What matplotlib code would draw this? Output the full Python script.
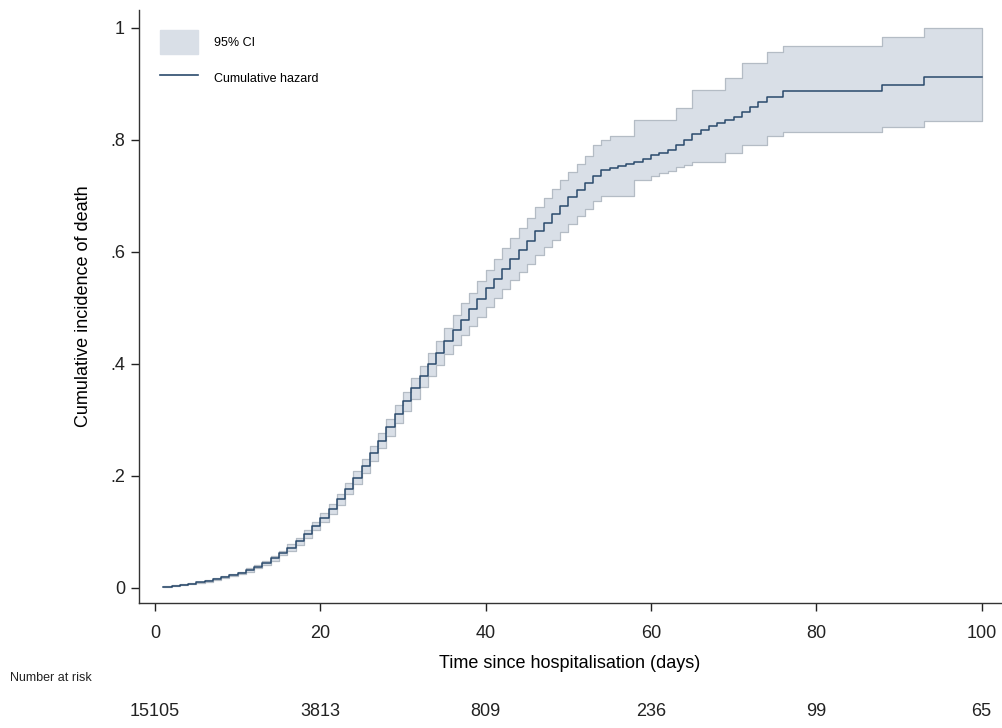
import matplotlib.pyplot as plt
from matplotlib.patches import Patch
from matplotlib.lines import Line2D

plt.rcParams['font.family'] = ['Liberation Sans', 'DejaVu Sans']

# event days (analysis time, days since hospitalisation)
days = list(range(1, 77)) + [88, 93]

# Nelson-Aalen cumulative hazard estimate at each event day
cumhaz = [0.002, 0.004, 0.006, 0.008, 0.010, 0.013, 0.016, 0.019, 0.023, 0.027,
          0.032, 0.038, 0.045, 0.053, 0.062, 0.072, 0.083, 0.096, 0.110, 0.125,
          0.141, 0.158, 0.177, 0.197, 0.218, 0.240, 0.263, 0.287, 0.310, 0.333,
          0.356, 0.378, 0.399, 0.419, 0.440, 0.460, 0.479, 0.497, 0.515, 0.535,
          0.552, 0.570, 0.587, 0.604, 0.620, 0.637, 0.652, 0.667, 0.682, 0.697,
          0.710, 0.723, 0.736, 0.746, 0.750, 0.753, 0.756, 0.760, 0.766, 0.772,
          0.777, 0.782, 0.790, 0.800, 0.810, 0.818, 0.824, 0.830, 0.836, 0.841,
          0.850, 0.859, 0.868, 0.877, 0.877, 0.886, 0.898, 0.911]

ci_lower = [0.001, 0.003, 0.005, 0.007, 0.009, 0.011, 0.014, 0.017, 0.021, 0.025,
            0.029, 0.035, 0.041, 0.049, 0.058, 0.066, 0.077, 0.089, 0.103, 0.117,
            0.132, 0.148, 0.167, 0.186, 0.206, 0.227, 0.249, 0.272, 0.294, 0.316,
            0.338, 0.359, 0.379, 0.398, 0.417, 0.434, 0.451, 0.468, 0.484, 0.502,
            0.518, 0.534, 0.549, 0.564, 0.578, 0.594, 0.608, 0.621, 0.635, 0.650,
            0.664, 0.676, 0.690, 0.699, 0.699, 0.699, 0.699, 0.728, 0.728, 0.735,
            0.740, 0.745, 0.752, 0.755, 0.761, 0.761, 0.761, 0.761, 0.777, 0.777,
            0.791, 0.791, 0.791, 0.806, 0.806, 0.814, 0.823, 0.833]

ci_upper = [0.003, 0.005, 0.007, 0.009, 0.011, 0.015, 0.018, 0.021, 0.025, 0.029,
            0.035, 0.041, 0.049, 0.057, 0.066, 0.078, 0.089, 0.103, 0.117, 0.133,
            0.150, 0.168, 0.187, 0.208, 0.230, 0.253, 0.277, 0.302, 0.326, 0.350,
            0.374, 0.397, 0.419, 0.441, 0.464, 0.487, 0.508, 0.527, 0.547, 0.568,
            0.587, 0.606, 0.625, 0.643, 0.661, 0.679, 0.696, 0.712, 0.728, 0.743,
            0.757, 0.770, 0.790, 0.800, 0.806, 0.806, 0.806, 0.836, 0.836, 0.836,
            0.836, 0.836, 0.857, 0.857, 0.889, 0.889, 0.889, 0.889, 0.910, 0.910,
            0.937, 0.937, 0.937, 0.957, 0.957, 0.968, 0.983, 1.000]

end_day = 100

# risk table
risk_times = [0, 20, 40, 60, 80, 100]
n_at_risk = [15105, 3813, 809, 236, 99, 65]

x_ticks = [0, 20, 40, 60, 80, 100]
y_ticks = [0, 0.2, 0.4, 0.6, 0.8, 1]
y_ticklabels = ['0', '.2', '.4', '.6', '.8', '1']

band_face = '#d9dfe7'
band_edge = '#b4bcc5'
line_col = '#2a4a6c'
axis_col = '#333333'

# extend the last step to the end of follow-up
t = days + [end_day]
est = cumhaz + [cumhaz[-1]]
lo = ci_lower + [ci_lower[-1]]
hi = ci_upper + [ci_upper[-1]]

fig = plt.figure(figsize=(10.02, 7.28), dpi=100)
ax = fig.add_axes([0.1387, 0.1717, 0.86, 0.815])

ax.fill_between(t, lo, hi, step='post', facecolor=band_face,
                edgecolor=band_edge, linewidth=0.9)
ax.step(t, est, where='post', color=line_col, linewidth=1.1)

ax.set_xlim(-1.94, 102.3)
ax.set_ylim(-0.0268, 1.032)
ax.set_xticks(x_ticks)
ax.set_yticks(y_ticks)
ax.set_yticklabels(y_ticklabels)

for side in ['top', 'right']:
    ax.spines[side].set_visible(False)
for side in ['left', 'bottom']:
    ax.spines[side].set_color(axis_col)
    ax.spines[side].set_linewidth(1.0)
ax.tick_params(colors='#222222', labelsize=13, length=6, width=1.0,
               direction='out')
ax.tick_params(axis='x', pad=10)
ax.tick_params(axis='y', pad=4)

ax.set_xlabel('Time since hospitalisation (days)', fontsize=13, labelpad=9)
ax.set_ylabel('Cumulative incidence of death', fontsize=13, labelpad=13)

handles = [Patch(facecolor=band_face, edgecolor=band_face),
           Line2D([0], [0], color=line_col, linewidth=1.2)]
ax.legend(handles, ['95% CI', 'Cumulative hazard'], loc='upper left',
          frameon=False, fontsize=9, handlelength=3.0, handleheight=2.5,
          handletextpad=1.3, labelspacing=1.05, borderaxespad=0.4,
          bbox_to_anchor=(0.013, 0.982))

# number at risk table below the axis
fig.text(10 / 1002, 1 - 678 / 728, 'Number at risk', fontsize=9,
         ha='left', va='center', color='#222222')
for tt, n in zip(risk_times, n_at_risk):
    ax.annotate(str(n), xy=(tt, 0), xycoords=('data', 'figure fraction'),
                xytext=(tt, 1 - 712 / 728), textcoords=('data', 'figure fraction'),
                ha='center', va='center', fontsize=13, color='#222222')

fig.savefig('out.png', dpi=100)
